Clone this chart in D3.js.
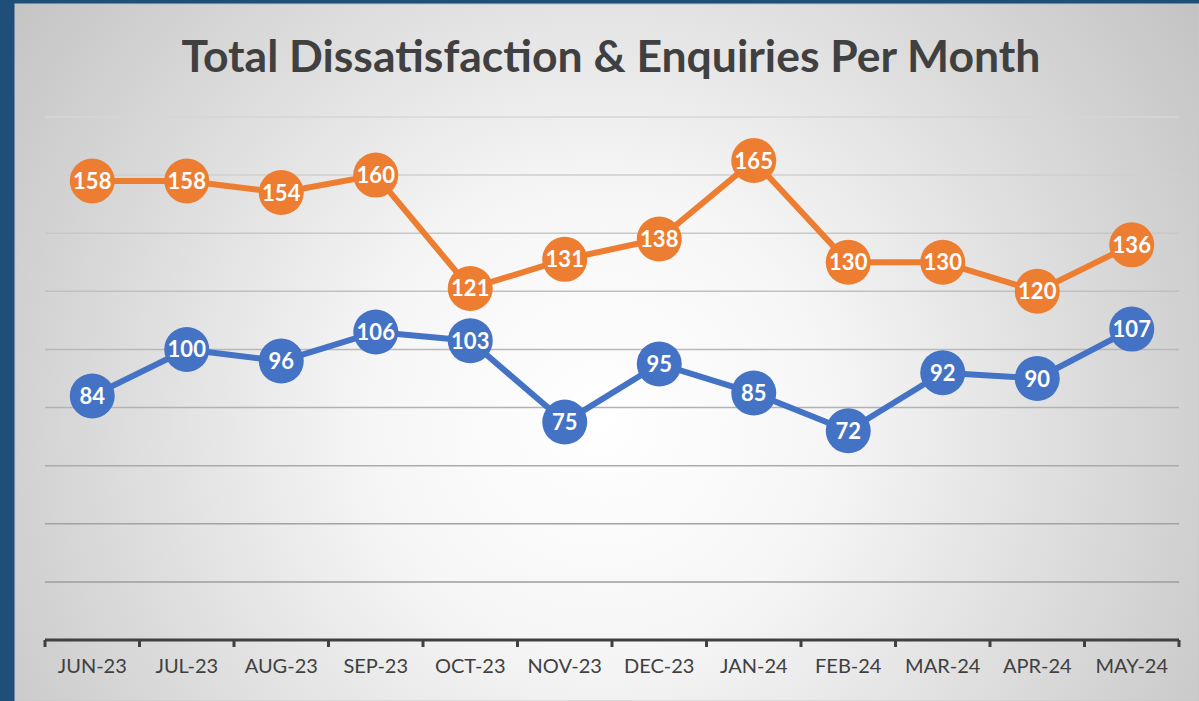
<!DOCTYPE html>
<html>
<head>
<meta charset="utf-8">
<script src="https://cdn.jsdelivr.net/npm/d3@7"></script>
<style>
  html, body { margin: 0; padding: 0; background: #1f4e79; }
  svg { display: block; }
</style>
</head>
<body>
<svg id="chart" width="1199" height="701"></svg>
<script>
const TITLE = 'Total Dissatisfaction & Enquiries Per Month'
const months = ['JUN-23', 'JUL-23', 'AUG-23', 'SEP-23', 'OCT-23', 'NOV-23',
                'DEC-23', 'JAN-24', 'FEB-24', 'MAR-24', 'APR-24', 'MAY-24']
const enquiries = [158, 158, 154, 160, 121, 131, 138, 165, 130, 130, 120, 136]
const dissatisfaction = [84, 100, 96, 106, 103, 75, 95, 85, 72, 92, 90, 107]
const yTicks = [0, 20, 40, 60, 80, 100, 120, 140, 160, 180]

const W = 1199
const H = 701
const LEFT = 45, RIGHT = 1179, TOP = 117, BOTTOM = 640

const svg = d3.select('#chart')

// background: blue frame + radial grey panel
const defs = svg.append('defs')
const grad = defs.append('radialGradient')
    .attr('id', 'bg')
    .attr('gradientUnits', 'userSpaceOnUse')
    .attr('cx', 600).attr('cy', 420).attr('r', 760)
grad.append('stop').attr('offset', '0').attr('stop-color', '#ffffff')
grad.append('stop').attr('offset', '0.3').attr('stop-color', '#f6f6f6')
grad.append('stop').attr('offset', '1').attr('stop-color', '#c0c0c0')

svg.append('rect').attr('width', W).attr('height', H).attr('fill', '#1f4e79')
svg.append('rect')
    .attr('x', 15).attr('y', 4)
    .attr('width', W - 15).attr('height', H - 4)
    .attr('fill', 'url(#bg)')
    .attr('stroke', '#c8c8c8').attr('stroke-width', 1)

svg.append('text')
    .attr('x', 611).attr('y', 72)
    .attr('text-anchor', 'middle')
    .attr('font-family', 'Lato, sans-serif')
    .attr('font-weight', 'bold')
    .attr('font-size', 44.5)
    .attr('fill', '#404040')
    .text(TITLE)

const x = d3.scaleBand().domain(months).range([LEFT, RIGHT])
const y = d3.scaleLinear().domain([0, 180]).range([BOTTOM, TOP])
const cx = m => x(m) + x.bandwidth() / 2

// gridlines, darker towards the bottom
const gridColor = d3.scaleLinear().domain([180, 20]).range(['#d6d6d6', '#9c9c9c'])
svg.append('g')
    .selectAll('line')
    .data(yTicks.filter(t => t > 0))
    .enter()
        .append('line')
        .attr('x1', LEFT).attr('x2', RIGHT)
        .attr('y1', d => y(d)).attr('y2', d => y(d))
        .attr('stroke', d => gridColor(d))
        .attr('stroke-width', 1.5)

// x axis
const xAxis = svg.append('g')
    .attr('transform', `translate(0,${BOTTOM})`)
    .call(d3.axisBottom(x).tickSize(0).tickPadding(19))
xAxis.select('.domain').remove()
xAxis.selectAll('text')
    .attr('font-family', 'Lato, sans-serif')
    .attr('font-size', 20)
    .attr('fill', '#404040')
svg.append('line')
    .attr('x1', LEFT).attr('x2', RIGHT)
    .attr('y1', BOTTOM).attr('y2', BOTTOM)
    .attr('stroke', '#404040').attr('stroke-width', 3)
svg.append('g')
    .selectAll('line')
    .data(months.concat(['end']))
    .enter()
        .append('line')
        .attr('x1', (d, i) => LEFT + i * x.step()).attr('x2', (d, i) => LEFT + i * x.step())
        .attr('y1', BOTTOM).attr('y2', BOTTOM + 7)
        .attr('stroke', '#404040').attr('stroke-width', 3)

const series = [
    { name: 'Enquiries', values: enquiries, color: '#ed7d31' },
    { name: 'Dissatisfaction', values: dissatisfaction, color: '#4472c4' }
]

series.forEach(s => {
    const pts = s.values.map((v, i) => [cx(months[i]), y(v), v])
    const g = svg.append('g').attr('class', 'series')
    g.append('path')
        .attr('d', d3.line()(pts.map(p => [p[0], p[1]])))
        .attr('fill', 'none')
        .attr('stroke', s.color)
        .attr('stroke-width', 6)
        .attr('stroke-linejoin', 'round')
    g.selectAll('circle')
        .data(pts)
        .enter()
            .append('circle')
            .attr('cx', d => d[0]).attr('cy', d => d[1])
            .attr('r', 22.5)
            .attr('fill', s.color)
    g.selectAll('text')
        .data(pts)
        .enter()
            .append('text')
            .attr('x', d => d[0]).attr('y', d => d[1] + 8)
            .attr('text-anchor', 'middle')
            .attr('font-family', 'Lato, sans-serif')
            .attr('font-weight', 'bold')
            .attr('font-size', 22)
            .attr('fill', '#ffffff')
            .text(d => d[2])
})
</script>
</body>
</html>
